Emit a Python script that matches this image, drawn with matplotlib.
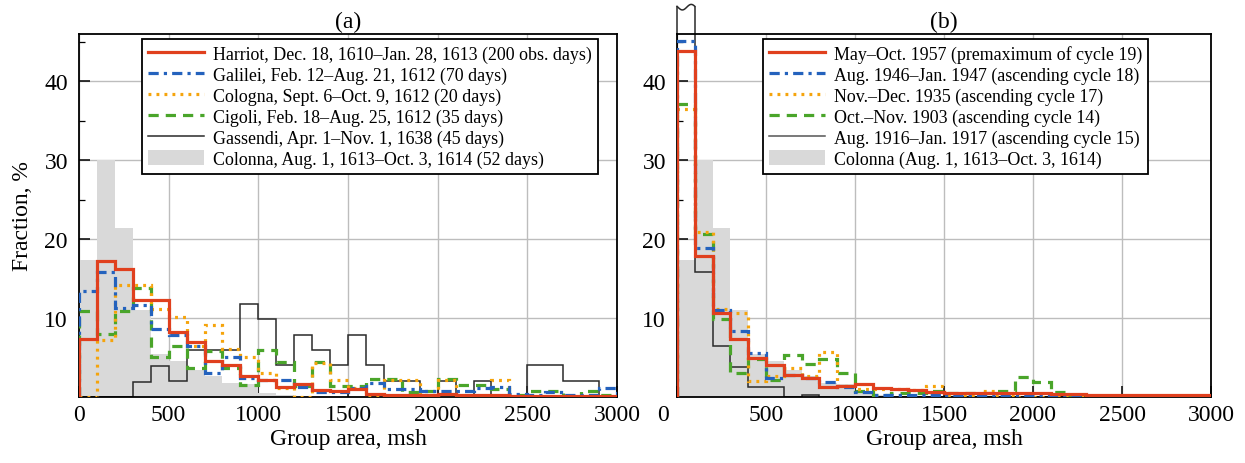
import matplotlib
matplotlib.use('Agg')
import matplotlib.pyplot as plt
import matplotlib.transforms as mtransforms
import numpy as np
from matplotlib.patches import Patch
from matplotlib.lines import Line2D

plt.rcParams['font.family'] = ['Liberation Serif', 'DejaVu Serif']

# ---------------- data (fraction, % per 100-msh bin, 0..3000 msh) ----------------
bin_edges = list(range(0, 3001, 100))

harriot = [7.4, 17.2, 16.2, 12.3, 12.3, 8.2, 7.0, 4.5, 4.1, 2.7,
           2.2, 1.3, 1.6, 0.9, 0.7, 1.0, 0.4, 0.3, 0.3, 0.3,
           0.4, 0.3, 0.3, 0.2, 0.1, 0.1, 0.1, 0.1, 0.1, 0.1]
galilei = [13.4, 15.8, 11.3, 11.6, 8.6, 7.9, 6.4, 3.1, 5.1, 2.4,
           2.2, 2.2, 1.3, 0.6, 0.6, 1.2, 1.8, 1.0, 1.0, 0.8,
           0.7, 0.7, 1.1, 1.3, 0.4, 0.2, 0.6, 0.2, 0.2, 1.1]
cologna = [0.0, 7.2, 14.2, 14.2, 11.1, 10.2, 6.4, 9.1, 6.1, 5.1,
           3.1, 1.1, 0.0, 4.3, 2.2, 1.1, 0.0, 2.2, 2.2, 0.0,
           2.2, 0.0, 0.0, 2.2, 0.0, 0.0, 0.0, 0.0, 0.0, 0.0]
cigoli = [10.9, 8.0, 10.9, 13.8, 5.1, 6.5, 3.7, 5.8, 3.7, 1.5,
          5.9, 4.4, 1.4, 4.4, 1.4, 1.4, 2.3, 2.3, 0.6, 0.8,
          2.3, 1.5, 1.5, 1.0, 0.2, 0.8, 0.7, 0.0, 0.8, 0.3]
gassendi = [0.0, 0.0, 0.0, 1.9, 3.9, 2.0, 5.9, 5.9, 5.9, 11.8,
            9.9, 4.0, 7.9, 5.9, 4.0, 7.9, 4.0, 2.0, 2.0, 0.0,
            2.0, 0.0, 2.0, 0.0, 0.0, 4.0, 4.0, 2.0, 2.0, 0.0]
colonna = [17.4, 30.0, 21.4, 11.0, 5.5, 4.6, 3.4, 2.6, 1.8, 1.6,
           0.5, 0.3, 0.0, 0.0, 0.0, 0.0, 0.0, 0.0, 0.0, 0.0,
           0.0, 0.0, 0.0, 0.0, 0.0, 0.0, 0.0, 0.0, 0.0, 0.0]

c19_1957 = [43.8, 17.9, 10.7, 7.3, 5.0, 4.0, 2.8, 2.4, 1.3, 1.4,
            1.6, 1.2, 1.0, 0.9, 0.6, 0.5, 0.5, 0.5, 0.5, 0.5,
            0.5, 0.4, 0.4, 0.3, 0.3, 0.3, 0.2, 0.2, 0.2, 0.2]
c18_1946 = [45.1, 18.9, 11.0, 8.4, 5.6, 2.4, 2.8, 2.4, 1.9, 1.3,
            0.6, 0.3, 0.2, 0.2, 0.2, 0.1, 0.1, 0.1, 0.1, 0.1,
            0.1, 0.1, 0.1, 0.1, 0.1, 0.1, 0.1, 0.1, 0.1, 0.1]
c17_1935 = [36.5, 20.9, 11.2, 10.6, 2.0, 2.6, 3.7, 2.6, 5.7, 1.4,
            1.0, 1.0, 1.0, 0.9, 1.4, 0.3, 0.3, 0.7, 0.3, 0.0,
            0.0, 0.0, 0.0, 0.0, 0.0, 0.0, 0.0, 0.0, 0.0, 0.0]
c14_1903 = [37.1, 20.6, 9.9, 3.1, 4.8, 2.1, 5.3, 4.2, 4.8, 3.0,
            0.7, 0.3, 0.5, 0.5, 0.7, 0.5, 0.5, 0.5, 0.7, 2.5,
            1.9, 0.6, 0.1, 0.0, 0.0, 0.0, 0.0, 0.0, 0.0, 0.0]
c15_1916 = [55.0, 15.8, 6.4, 3.8, 1.3, 1.3, 0.0, 0.3, 0.0, 0.0,
            0.0, 0.0, 0.0, 0.0, 0.0, 0.0, 0.0, 0.0, 0.0, 0.0,
            0.0, 0.0, 0.0, 0.0, 0.0, 0.0, 0.0, 0.0, 0.0, 0.0]

labels_a = ["Harriot, Dec. 18, 1610\u2013Jan. 28, 1613 (200 obs. days)",
            "Galilei, Feb. 12\u2013Aug. 21, 1612 (70 days)",
            "Cologna, Sept. 6\u2013Oct. 9, 1612 (20 days)",
            "Cigoli, Feb. 18\u2013Aug. 25, 1612 (35 days)",
            "Gassendi, Apr. 1\u2013Nov. 1, 1638 (45 days)",
            "Colonna, Aug. 1, 1613\u2013Oct. 3, 1614 (52 days)"]
labels_b = ["May\u2013Oct. 1957 (premaximum of cycle 19)",
            "Aug. 1946\u2013Jan. 1947 (ascending cycle 18)",
            "Nov.\u2013Dec. 1935 (ascending cycle 17)",
            "Oct.\u2013Nov. 1903 (ascending cycle 14)",
            "Aug. 1916\u2013Jan. 1917 (ascending cycle 15)",
            "Colonna (Aug. 1, 1613\u2013Oct. 3, 1614)"]

x_ticks = [0, 500, 1000, 1500, 2000, 2500, 3000]
y_ticks = [10, 20, 30, 40]

# ---------------- styles ----------------
RED = '#e0401e'
BLUE = '#2462bd'
ORANGE = '#f5a40c'
GREEN = '#4aa52a'
BLACK = '#2a2a2a'
GRAY = '#d9d9d9'

st_red = dict(color=RED, lw=2.3, ls='-')
st_blue = dict(color=BLUE, lw=2.3, ls=(0, (3.2, 1.6, 1.0, 1.6)))
st_orange = dict(color=ORANGE, lw=2.3, ls=(0, (0.9, 1.6)))
st_green = dict(color=GREEN, lw=2.3, ls=(0, (3.2, 2.2)))
st_black = dict(color=BLACK, lw=1.1, ls='-')

FS_TICK = 17
FS_LEG = 12.9

fig = plt.figure(figsize=(12.45, 4.64), dpi=100)
W, H = 1245, 464
axA = fig.add_axes([79 / W, 1 - 398 / H, 538 / W, 363 / H])
axB = fig.add_axes([677 / W, 1 - 398 / H, 534 / W, 363 / H])

YTOP = 46


def setup(ax, title):
    ax.set_xlim(0, 3000)
    ax.set_ylim(0, YTOP)
    ax.set_xticks(x_ticks)
    ax.set_yticks(y_ticks)
    ax.set_yticks([5, 15, 25, 35, 45], minor=True)
    ax.tick_params(axis='both', which='major', direction='in', length=8,
                   width=1.1, labelsize=FS_TICK, colors='black')
    ax.tick_params(axis='x', which='major', pad=5)
    ax.tick_params(axis='y', which='major', pad=8)
    ax.tick_params(axis='y', which='minor', direction='in', length=4, width=0.9)
    ax.grid(True, which='major', color='#bdbdbd', lw=1.0)
    ax.set_axisbelow(True)
    for s in ax.spines.values():
        s.set_linewidth(1.3)
        s.set_color('black')
    ax.set_xlabel("Group area, msh", fontsize=FS_TICK, labelpad=2)
    ax.set_title(title, fontsize=FS_TICK, pad=5)


def legend(ax, handles, labels, x0):
    leg = ax.legend(handles, labels, loc='upper left', bbox_to_anchor=(x0, 0.986),
                    borderaxespad=0, fontsize=FS_LEG, frameon=True, fancybox=False,
                    edgecolor='black', framealpha=1, handlelength=3.1,
                    handletextpad=0.5, labelspacing=0.18, borderpad=0.35,
                    handleheight=0.9)
    leg.get_frame().set_linewidth(1.3)
    leg.set_zorder(10)


# ---------------- panel (a) ----------------
axA.stairs(colonna, bin_edges, fill=True, color=GRAY, zorder=1)
axA.stairs(gassendi, bin_edges, baseline=0, zorder=2, **st_black)
axA.stairs(cigoli, bin_edges, baseline=0, zorder=3, **st_green)
axA.stairs(cologna, bin_edges, baseline=0, zorder=4, **st_orange)
axA.stairs(galilei, bin_edges, baseline=0, zorder=5, **st_blue)
axA.stairs(harriot, bin_edges, baseline=0, zorder=6, **st_red)
setup(axA, "(a)")
axA.set_ylabel("Fraction, %", fontsize=FS_TICK, labelpad=8)

hA = [Line2D([], [], **st_red), Line2D([], [], **st_blue), Line2D([], [], **st_orange),
      Line2D([], [], **st_green), Line2D([], [], **st_black),
      Patch(facecolor=GRAY, edgecolor='none')]
legend(axA, hA, labels_a, 0.117)

# ---------------- panel (b) ----------------
axB.stairs(colonna, bin_edges, fill=True, color=GRAY, zorder=1)
axB.stairs(c15_1916, bin_edges, baseline=0, zorder=2, **st_black)
axB.stairs(c14_1903, bin_edges, baseline=0, zorder=3, **st_green)
axB.stairs(c17_1935, bin_edges, baseline=0, zorder=4, **st_orange)
axB.stairs(c18_1946, bin_edges, baseline=0, zorder=5, **st_blue)
axB.stairs(c19_1957, bin_edges, baseline=0, zorder=6, **st_red)
setup(axB, "(b)")

# shift the "0" label of panel (b) slightly left, as in the original
fig.canvas.draw()
lbl0 = axB.get_xticklabels()[0]
lbl0.set_transform(lbl0.get_transform() +
                   mtransforms.ScaledTranslation(-14 / 100, 0, fig.dpi_scale_trans))

# break mark for the off-scale first bin of the 1916-1917 histogram
b0, b1 = bin_edges[0], bin_edges[1]
brk_top = YTOP + 3.4
axB.plot([b0, b0], [YTOP, brk_top], clip_on=False, **st_black)
axB.plot([b1, b1], [YTOP, brk_top], clip_on=False, **st_black)
tt = np.linspace(b0, b1, 40)
axB.plot(tt, brk_top + 0.35 * np.sin(2 * np.pi * (tt - b0) / (b1 - b0) + np.pi * 0.9),
         clip_on=False, **st_black)

hB = [Line2D([], [], **st_red), Line2D([], [], **st_blue), Line2D([], [], **st_orange),
      Line2D([], [], **st_green), Line2D([], [], color='#555555', lw=1.1),
      Patch(facecolor=GRAY, edgecolor='none')]
legend(axB, hB, labels_b, 0.161)

fig.savefig('out.png', dpi=100)
